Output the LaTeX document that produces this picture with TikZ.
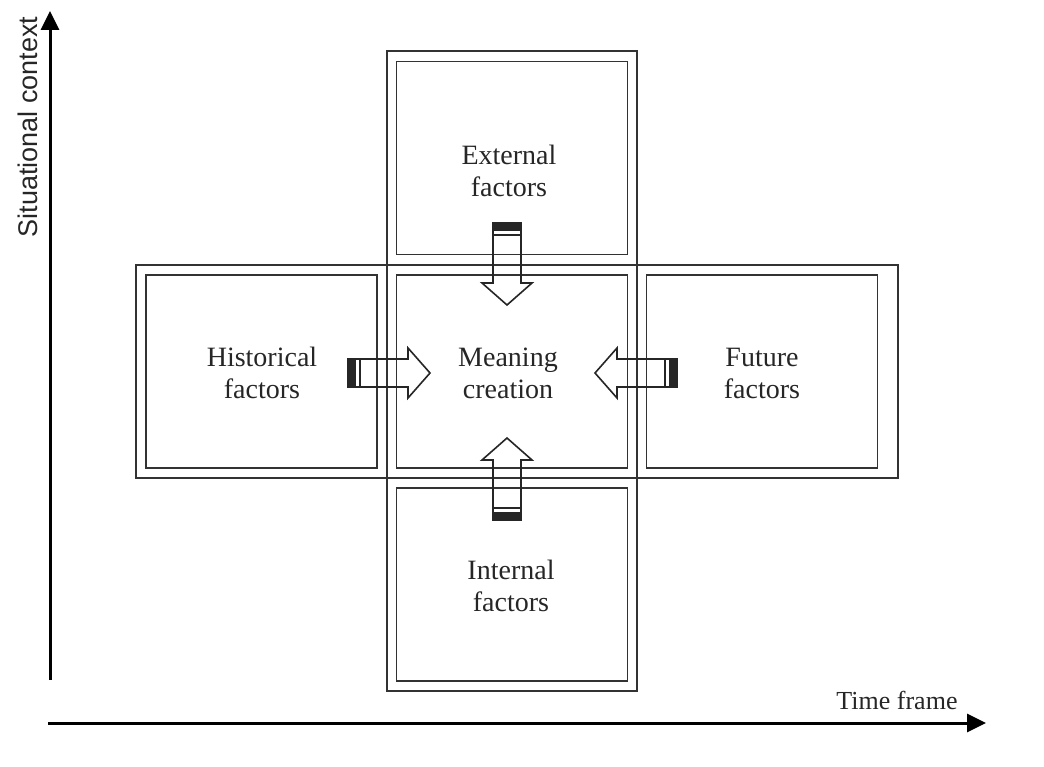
\documentclass[tikz,border=0pt]{standalone}
\usepackage{fontspec}
\setmainfont{Liberation Serif}
\newfontfamily\axisfont{Liberation Sans}
\usetikzlibrary{arrows.meta}
\tikzset{
  frame/.style={draw=black!80, line width=1.8pt},
  box/.style={frame, minimum width=231pt, minimum height=193pt, inner sep=0pt},
  lbl/.style={align=center, font=\fontsize{28}{32}\selectfont, text=black!85},
  axis/.style={line width=3pt, -{Triangle[length=19pt,width=18pt]}},
  arrowline/.style={draw=black!85, line width=1.6pt, line join=miter},
  barrow/.pic={
    \draw[arrowline] (0,-14) -- (60,-14) -- (60,-25) -- (82,0) -- (60,25) -- (60,14) -- (0,14) -- cycle;
    \fill[black!85] (0,-14) rectangle (8,14);
    \draw[black!85, line width=1.4pt] (12,-14) -- (12,14);
  }
}
\begin{document}
\begin{tikzpicture}[x=1pt,y=-1pt]
\useasboundingbox (0,0) rectangle (1044,767);
% outer frames
\draw[frame] (387,51) rectangle (637,691);
\draw[frame] (136,265) rectangle (898,478);
% boxes
\node[box] (ext) at (512,158) {};
\node[box] (mean) at (512,371.5) {};
\node[box] (int) at (512,584.5) {};
\node[box] (hist) at (261.5,371.5) {};
\node[box] (fut) at (762,371.5) {};
% labels
\node[lbl] (extl) at (509,171) {External\\factors};
\node[lbl] (meanl) at (508,373) {Meaning\\creation};
\node[lbl] (intl) at (511,586) {Internal\\factors};
\node[lbl] (histl) at (262,373) {Historical\\factors};
\node[lbl] (futl) at (762,373) {Future\\factors};
% block arrows
\pic[rotate=-90] at (507,223) {barrow};
\pic[rotate=90] at (507,520) {barrow};
\pic at (348,373) {barrow};
\pic[rotate=180] at (677,373) {barrow};
% axes
\coordinate (o1) at (50,680);
\coordinate (yt) at (50,11);
\coordinate (o2) at (48,723);
\coordinate (xt) at (986,723);
\draw[axis] (o1) -- (yt);
\draw[axis] (o2) -- (xt);
\node[font=\fontsize{26}{30}\selectfont, text=black!85] (tf) at (897,700) {Time frame};
\node[font=\axisfont\fontsize{27}{30}\selectfont, rotate=90, text=black!85] (sc) at (28,127) {Situational context};
\end{tikzpicture}
\end{document}
